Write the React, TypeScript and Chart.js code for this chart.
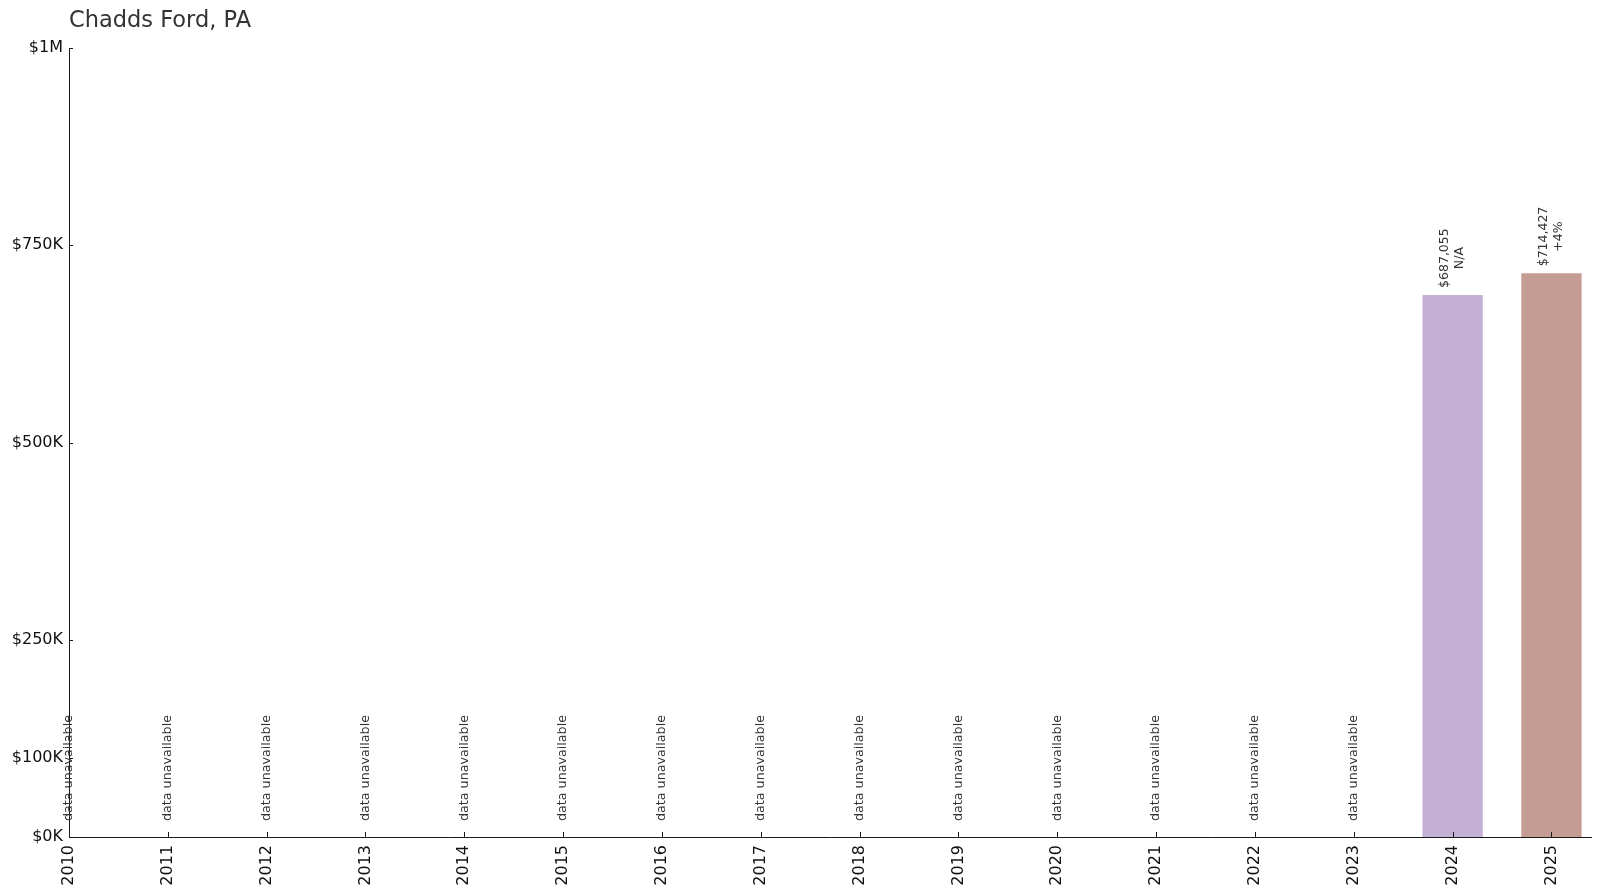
import { useEffect, useRef } from "react";
import Chart from "chart.js/auto";

const title = "Chadds Ford, PA";
const years = [2010, 2011, 2012, 2013, 2014, 2015, 2016, 2017, 2018, 2019, 2020, 2021, 2022, 2023, 2024, 2025];
const values: (number | null)[] = [null, null, null, null, null, null, null, null, null, null, null, null, null, null, 687055, 714427];
const changeLabels = ["", "", "", "", "", "", "", "", "", "", "", "", "", "", "N/A", "+4%"];
const barColors = ["#c5b0d5", "#c49c94"];
const yTicks = [0, 100000, 250000, 500000, 750000, 1000000];

const FONT = "'DejaVu Sans', sans-serif";

function money(v: number) {
  return "$" + v.toLocaleString("en-US");
}

function yTickLabel(v: number) {
  if (v >= 1000000) return "$" + v / 1000000 + "M";
  return "$" + v / 1000 + "K";
}

// draws title, inward tick marks, rotated value labels and "data unavailable" notes
const annotations = {
  id: "annotations",
  afterDraw(chart: any) {
    const ctx = chart.ctx;
    const x = chart.scales.x;
    const y = chart.scales.y;
    const area = chart.chartArea;
    ctx.save();

    ctx.fillStyle = "#333333";
    ctx.font = `22.5px ${FONT}`;
    ctx.textAlign = "left";
    ctx.textBaseline = "alphabetic";
    ctx.fillText(title, area.left, 27);

    ctx.strokeStyle = "#1a1a1a";
    ctx.lineWidth = 1;
    ctx.beginPath();
    yTicks.forEach((t) => {
      const py = Math.round(y.getPixelForValue(t)) + 0.5;
      ctx.moveTo(area.left, py);
      ctx.lineTo(area.left + 4, py);
    });
    years.forEach((yr) => {
      const px = Math.round(x.getPixelForValue(yr)) + 0.5;
      ctx.moveTo(px, area.bottom);
      ctx.lineTo(px, area.bottom - 5);
    });
    ctx.stroke();

    years.forEach((yr, i) => {
      const px = x.getPixelForValue(yr);
      const v = values[i];
      ctx.save();
      if (v == null) {
        ctx.translate(px, area.bottom - 16);
        ctx.rotate(-Math.PI / 2);
        ctx.font = `12.7px ${FONT}`;
        ctx.fillStyle = "#333333";
        ctx.textAlign = "left";
        ctx.textBaseline = "middle";
        ctx.fillText("data unavailable", 0, 0);
      } else {
        const top = y.getPixelForValue(v);
        ctx.translate(px, top - 7);
        ctx.rotate(-Math.PI / 2);
        ctx.font = `12.5px ${FONT}`;
        ctx.fillStyle = "#333333";
        const l1 = money(v);
        const w1 = ctx.measureText(l1).width;
        ctx.textAlign = "center";
        ctx.textBaseline = "middle";
        ctx.fillText(l1, w1 / 2, -7.5);
        ctx.fillText(changeLabels[i], w1 / 2, 7.5);
      }
      ctx.restore();
    });

    ctx.restore();
  },
};

export default function App() {
  const chartRef = useRef<HTMLCanvasElement>(null);
  const chartInstanceRef = useRef<Chart | null>(null);

  useEffect(() => {
    if (!chartRef.current) return;
    if (chartInstanceRef.current) chartInstanceRef.current.destroy();

    const ctx = chartRef.current.getContext("2d");
    if (!ctx) return;

    const points = years.map((yr, i) => ({ x: yr, y: values[i] }));
    let c = 0;
    const colors = values.map((v) => (v == null ? "transparent" : barColors[c++ % barColors.length]));

    chartInstanceRef.current = new Chart(ctx, {
      type: "bar",
      data: {
        datasets: [
          {
            label: "Value",
            data: points as any,
            backgroundColor: colors,
            borderWidth: 0,
            categoryPercentage: 1,
            barPercentage: 0.61,
          },
        ],
      },
      plugins: [annotations],
      options: {
        animation: false,
        responsive: true,
        maintainAspectRatio: false,
        layout: { padding: { top: 48, right: 9, left: 0, bottom: 0 } },
        plugins: {
          legend: { display: false },
          tooltip: { enabled: false },
          title: { display: false },
        },
        scales: {
          x: {
            type: "linear",
            offset: false,
            min: 2010,
            max: 2025.4,
            afterBuildTicks: (scale: any) => {
              scale.ticks = years.map((v) => ({ value: v }));
            },
            afterFit: (scale: any) => {
              scale.height = 58;
            },
            grid: { display: false, drawTicks: false, offset: false },
            border: { display: true, color: "#1a1a1a", width: 1 },
            ticks: {
              minRotation: 90,
              maxRotation: 90,
              padding: 8,
              autoSkip: false,
              color: "#111111",
              font: { family: FONT, size: 16 },
              callback: (v: any) => String(v),
            },
          },
          y: {
            min: 0,
            max: 1000000,
            afterBuildTicks: (scale: any) => {
              scale.ticks = yTicks.map((v) => ({ value: v }));
            },
            afterFit: (scale: any) => {
              scale.width = 69;
            },
            grid: { display: false, drawTicks: false },
            border: { display: true, color: "#1a1a1a", width: 1 },
            ticks: {
              padding: 6,
              color: "#111111",
              font: { family: FONT, size: 16 },
              callback: (v: any) => yTickLabel(Number(v)),
            },
          },
        },
      },
    });

    return () => {
      if (chartInstanceRef.current) {
        chartInstanceRef.current.destroy();
        chartInstanceRef.current = null;
      }
    };
  }, []);

  return (
    <div style={{ position: "fixed", left: 0, top: 0, width: 1600, height: 895, background: "#ffffff" }}>
      <canvas ref={chartRef} />
    </div>
  );
}
